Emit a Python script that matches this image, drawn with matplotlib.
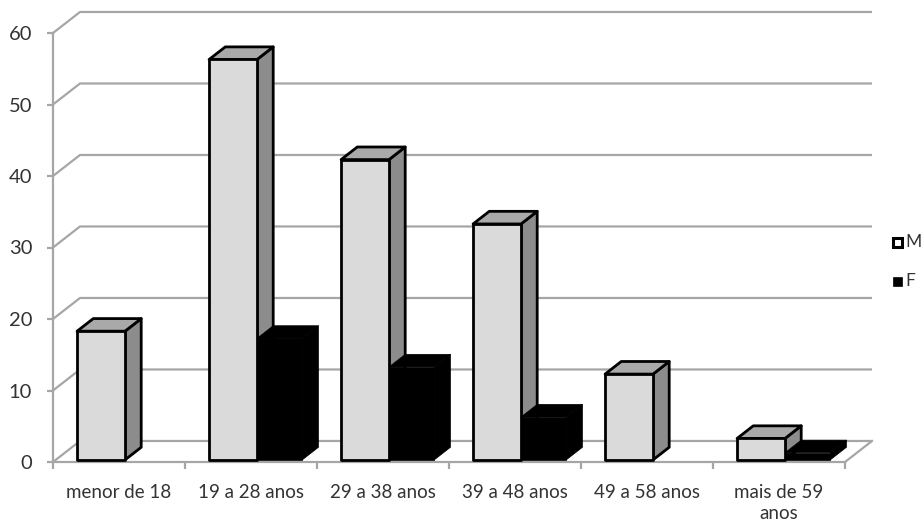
import matplotlib
matplotlib.use("Agg")
import matplotlib.pyplot as plt
from matplotlib.patches import Polygon, Rectangle

plt.rcParams['font.family'] = ['Lato', 'DejaVu Sans']

categories = ["menor de 18", "19 a 28 anos", "29 a 38 anos", "39 a 48 anos",
              "49 a 58 anos", "mais de 59\nanos"]
m_values = [18, 56, 42, 33, 12, 3]
f_values = [0, 17, 13, 6, 0, 1]
y_ticks = [0, 10, 20, 30, 40, 50, 60]
series_names = ["M", "F"]

W, H = 924, 525
fig = plt.figure(figsize=(W / 100, H / 100), dpi=100)
ax = fig.add_axes([53 / W, 63 / H, 792 / W, 429 / H])
ax.set_xlim(0, len(categories))
ax.set_ylim(0, 60)

# oblique depth of the floor (in data units)
DX, DY = 0.2045, 2.94
# bar front / back positions as fractions of floor depth
D0, D1 = 0.1, 0.7
grid_c = '#a6a6a6'
text_c = '#333333'
n = len(categories)

# gridlines / back wall
for v in y_ticks:
    ax.plot([0, DX, n + DX], [v, v + DY, v + DY], color=grid_c, lw=1.6,
            clip_on=False, zorder=1, solid_capstyle='butt')
ax.plot([n, n + DX], [0, DY], color=grid_c, lw=1.6, clip_on=False, zorder=1)

for s in ['top', 'right']:
    ax.spines[s].set_visible(False)
for s in ['left', 'bottom']:
    ax.spines[s].set_color(grid_c)
    ax.spines[s].set_linewidth(1.6)
    ax.spines[s].set_zorder(1)

ax.set_yticks(y_ticks)
ax.set_yticklabels([str(t) for t in y_ticks], fontsize=14.5, color=text_c)
ax.tick_params(axis='y', length=4, width=1.6, color=grid_c, pad=11)
ax.set_xticks([i + 0.5 for i in range(n)])
ax.set_xticklabels(categories, fontsize=13.5, color=text_c, linespacing=1.3)
ax.tick_params(axis='x', which='major', length=0, pad=16)
ax.set_xticks(list(range(n + 1)), minor=True)
ax.tick_params(axis='x', which='minor', length=5, width=1.6, color=grid_c)
ax.patch.set_alpha(0)


def P(x, v, d):
    return (x + d * DX, v + d * DY)


def bar3d(x0, x1, h, front, top, side, edge, lw, z):
    faces = [
        ([P(x1, 0, D0), P(x1, 0, D1), P(x1, h, D1), P(x1, h, D0)], side),
        ([P(x0, h, D0), P(x1, h, D0), P(x1, h, D1), P(x0, h, D1)], top),
        ([P(x0, 0, D0), P(x1, 0, D0), P(x1, h, D0), P(x0, h, D0)], front),
    ]
    for pts, c in faces:
        ax.add_patch(Polygon(pts, closed=True, facecolor=c, edgecolor=edge,
                             lw=lw, joinstyle='round', clip_on=False, zorder=z))


z = 3
for i in range(n):
    if m_values[i] > 0:
        bar3d(i + 0.162, i + 0.525, m_values[i], '#dadada', '#a9a9a9', '#8c8c8c',
              'black', 2.0, z)
    z += 1
    if f_values[i] > 0:
        bar3d(i + 0.525, i + 0.868, f_values[i], 'black', 'black', 'black',
              'black', 0.5, z)
    z += 1

# legend
leg_items = [(series_names[0], 'white', 2.2, 242), (series_names[1], 'black', 0.5, 281)]
for name, fc, lw, yc in leg_items:
    fig.add_artist(Rectangle((893 / W, (H - yc - 5) / H), 9 / W, 9 / H,
                             transform=fig.transFigure, facecolor=fc,
                             edgecolor='black', lw=lw))
    fig.text(905 / W, (H - yc) / H, name, fontsize=12.5, color=text_c,
             ha='left', va='center')

fig.savefig("out.png", dpi=100)
